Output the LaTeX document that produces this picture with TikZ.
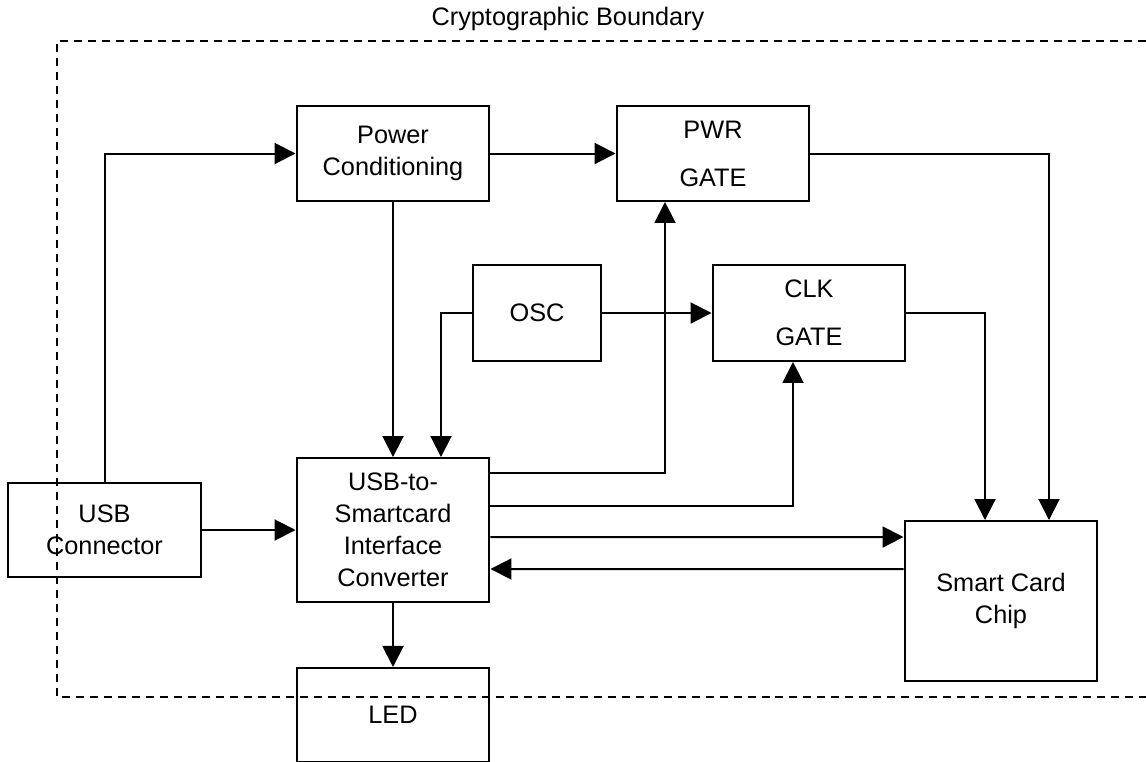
\documentclass[tikz,border=0pt]{standalone}
\usepackage{fontspec}
\setmainfont{Liberation Sans}
\usetikzlibrary{arrows.meta,positioning}

\begin{document}
\begin{tikzpicture}[x=0.02cm,y=-0.02cm]
    \tikzset{blockbox/.style={draw,line width=0.04cm,minimum width=3.86cm,minimum height=1.9cm,inner sep=0pt,align=center,font=\fontsize{14.4}{18.2}\selectfont},
      link/.style={line width=0.04cm,-{Triangle[length=0.42cm,width=0.42cm]}},
      boundary/.style={line width=0.04cm,dash pattern=on 0.16cm off 0.12cm}}
    \useasboundingbox (0,0) rectangle (1146,761);
    % cryptographic boundary
    \draw[boundary] (1146,41) -- (57,41) -- (57,697) -- (1146,697);
    \node[font=\fontsize{14.4}{18.2}\selectfont] (title) at (568,19) {Cryptographic Boundary};
    % blocks
    \node[blockbox] (pwrcond) at (393,153.5) {Power\\Conditioning};
    \node[blockbox] (pwrgate) at (713,153.5) {PWR\\[0.32cm]GATE};
    \node[blockbox,minimum width=2.56cm,minimum height=1.92cm] (osc) at (537,313) {OSC};
    \node[blockbox,minimum height=1.92cm] (clkgate) at (809,313) {CLK\\[0.32cm]GATE};
    \node[blockbox,minimum height=2.88cm] (conv) at (393,530) {USB-to-\\Smartcard\\Interface\\Converter};
    \node[blockbox] (usbconn) at (104.5,530) {USB\\Connector};
    \node[blockbox,minimum height=3.2cm] (scchip) at (1001,601) {Smart Card\\Chip};
    \node[blockbox,below=1.28cm of conv,minimum height=1.88cm] (led) {LED};
    % connections
    \draw[link] (usbconn.north) |- (pwrcond.west);
    \draw[link] (pwrcond.east) -- (pwrgate.west);
    \draw[link] (pwrgate.east) -| ([xshift=0.96cm]scchip.north);
    \draw[link] (clkgate.east) -| ([xshift=-0.32cm]scchip.north);
    \draw[link] (osc.east) -- (clkgate.west);
    \draw[link] (osc.west) -| ([xshift=0.96cm]conv.north);
    \draw[link] (pwrcond.south) -- (conv.north);
    \draw[link] ([yshift=1.14cm]conv.east) -| ([xshift=-0.96cm]pwrgate.south);
    \draw[link] ([yshift=0.48cm]conv.east) -| ([xshift=-0.32cm]clkgate.south);
    \draw[link] ([yshift=-0.14cm]conv.east) -- ([yshift=1.28cm]scchip.west);
    \draw[link] ([yshift=0.64cm]scchip.west) -- ([yshift=-0.78cm]conv.east);
    \draw[link] (usbconn.east) -- (conv.west);
    \draw[link] (conv.south) -- (led.north);
\end{tikzpicture}
\end{document}
